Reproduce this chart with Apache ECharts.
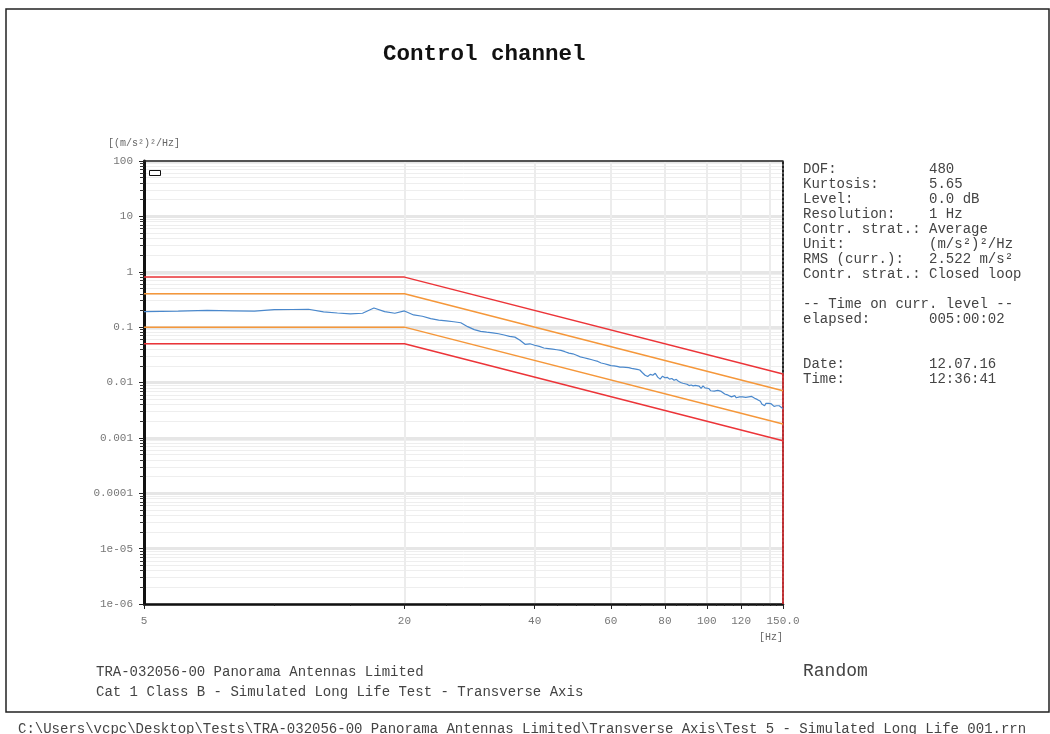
<!DOCTYPE html>
<html>
<head>
<meta charset="utf-8">
<title>Control channel</title>
<script src="https://cdn.jsdelivr.net/npm/echarts/dist/echarts.min.js"></script>
<style>
  html, body { margin: 0; padding: 0; background: #fff; }
  #chart { width: 1050px; height: 734px; }
</style>
</head>
<body>
<div id="chart"></div>
<script>
// reference profile + tolerance lines (breakpoints in Hz)
const profileFreq = [5, 20, 150];
const upperAbortFreq = [5, 20, 150, 150];
const upperAbort = [0.8, 0.8, 0.0142, 0.000001];
const upperAlarm = [0.4, 0.4, 0.0071];
const lowerAlarm = [0.1, 0.1, 0.00178];
const lowerAbort = [0.05, 0.05, 0.00089];

// measured control PSD, 1 Hz resolution from 5 Hz to 150 Hz
const controlStart = 5;
const controlPsd = [
  0.19, 0.195, 0.20, 0.197, 0.195, 0.207, 0.208, 0.21, 0.188, 0.18,
  0.173, 0.178, 0.222, 0.19, 0.178, 0.196,
  0.166, 0.157, 0.142, 0.134, 0.130, 0.125, 0.12, 0.102, 0.09, 0.084,
  0.081, 0.079, 0.076, 0.072, 0.068, 0.066, 0.058, 0.049, 0.050, 0.047,
  0.045, 0.042, 0.041, 0.040, 0.039, 0.038, 0.036, 0.034, 0.033, 0.031,
  0.029, 0.028, 0.027, 0.026, 0.025, 0.024, 0.0225, 0.0218, 0.021, 0.0202,
  0.0200, 0.0195, 0.019, 0.0189, 0.0187, 0.0185, 0.018, 0.0176, 0.0172, 0.0168,
  0.015, 0.0135, 0.0128, 0.014, 0.0135, 0.0147, 0.0125, 0.0115, 0.013, 0.0122,
  0.0124, 0.0115, 0.0118, 0.011, 0.0114, 0.0105, 0.0100, 0.0097, 0.0095, 0.0093,
  0.0088, 0.0090, 0.0087, 0.0089, 0.0082, 0.0086, 0.0078, 0.0087, 0.0080, 0.0075,
  0.0078, 0.0071, 0.0076, 0.0070, 0.0068, 0.0072, 0.0067, 0.0069, 0.0065, 0.0062,
  0.0064, 0.0059, 0.0063, 0.0055, 0.0054, 0.0058, 0.0053, 0.0057, 0.0055, 0.0056,
  0.0055, 0.0057, 0.0054, 0.0056, 0.0055, 0.0053, 0.0056, 0.0054, 0.0052, 0.0050,
  0.0049, 0.0048, 0.0046, 0.0041, 0.0043, 0.0038, 0.0042, 0.0040, 0.0042, 0.0039,
  0.0041, 0.0040, 0.0037, 0.0039, 0.0038, 0.0036, 0.0038, 0.0036, 0.0035, 0.0034
];

// axis ticks / labels
const xLabelFreq = [5, 20, 40, 60, 80, 100, 120, 150];
const xLabels = ["5", "20", "40", "60", "80", "100", "120", "150.0"];
const xMinorFreq = [5, 10, 15, 20, 25, 30, 35, 40, 45, 50, 55, 60, 65, 70, 75, 80, 85, 90, 95,
  100, 105, 110, 115, 120, 125, 130, 135, 140, 145, 150];
const xGridFreq = [20, 40, 60, 80, 100, 120, 140];
const yDecades = [-6, -5, -4, -3, -2, -1, 0, 1, 2];
const yLabels = ["1e-06", "1e-05", "0.0001", "0.001", "0.01", "0.1", "1", "10", "100"];
const yMinorFactors = [2, 3, 4, 5, 6, 7, 8, 9];

// info panel
const infoLabels = ["DOF:", "Kurtosis:", "Level:", "Resolution:", "Contr. strat.:", "Unit:",
  "RMS (curr.):", "Contr. strat.:", "", "-- Time on curr. level --", "elapsed:", "", "", "Date:", "Time:"];
const infoValues = ["480", "5.65", "0.0 dB", "1 Hz", "Average", "(m/s²)²/Hz",
  "2.522 m/s²", "Closed loop", "", "", "005:00:02", "", "", "12.07.16", "12:36:41"];

const MONO = "'Liberation Mono', 'DejaVu Sans Mono', monospace";
const lg = Math.log10;

const controlFreq = controlPsd.map((v, i) => controlStart + i);
const toXY = (fs, vs) => fs.map((f, i) => [lg(f), lg(vs[i])]);

const yMinorVals = [];
yDecades.slice(0, -1).forEach(d => yMinorFactors.forEach(k => yMinorVals.push(d + lg(k))));

const infoText = infoLabels.map((l, i) =>
  infoValues[i] ? l.padEnd(15, " ") + infoValues[i] : l).join("\n");

const xMin = lg(5), xMax = lg(150);
const xLabelFormatter = (val) => {
  const i = xLabelFreq.findIndex(f => Math.abs(lg(f) - val) < 1e-6);
  return i >= 0 ? xLabels[i] : "";
};
const yLabelFormatter = (val) => {
  const i = yDecades.findIndex(d => Math.abs(d - val) < 1e-6);
  return i >= 0 ? yLabels[i] : "";
};

const lineSeries = (name, data, color, width, z) => ({
  name: name,
  type: "line",
  data: data,
  xAxisIndex: 0,
  yAxisIndex: 0,
  showSymbol: false,
  symbol: "none",
  z: z,
  lineStyle: { color: color, width: width },
  emphasis: { disabled: true }
});

const option = {
  animation: false,
  backgroundColor: "#fff",
  title: {
    text: "Control channel",
    left: 378,
    top: 38,
    textStyle: { fontFamily: MONO, fontSize: 22.5, fontWeight: "bold", color: "#111" }
  },
  grid: { left: 144, right: 267, top: 161, bottom: 130, containLabel: false },
  xAxis: [
    {
      // bottom axis with every 5 Hz small tick
      type: "value", min: xMin, max: xMax, position: "bottom",
      axisLine: { show: true, onZero: false, lineStyle: { color: "#111", width: 2.5 } },
      axisTick: { show: true, customValues: xMinorFreq.map(lg), length: 2, lineStyle: { color: "#222" } },
      axisLabel: { show: false },
      splitLine: { show: false }
    },
    {
      // labelled ticks
      type: "value", min: xMin, max: xMax, position: "bottom",
      axisLine: { show: false, onZero: false },
      axisTick: { show: true, customValues: xLabelFreq.map(lg), length: 5, lineStyle: { color: "#222" } },
      axisLabel: {
        show: true, customValues: xLabelFreq.map(lg), formatter: xLabelFormatter,
        margin: 12, color: "#777", fontFamily: MONO, fontSize: 11
      },
      splitLine: { show: false }
    },
    {
      // vertical grid
      type: "value", min: xMin, max: xMax, position: "bottom",
      axisLine: { show: false, onZero: false },
      axisTick: { show: false, customValues: xGridFreq.map(lg) },
      axisLabel: { show: false },
      splitLine: { show: true, lineStyle: { color: "#ececec", width: 2 } }
    },
    {
      // top border
      type: "value", min: xMin, max: xMax, position: "top",
      axisLine: { show: true, onZero: false, lineStyle: { color: "#222", width: 1.5 } },
      axisTick: { show: false }, axisLabel: { show: false }, splitLine: { show: false }
    }
  ],
  yAxis: [
    {
      type: "value", min: -6, max: 2, interval: 1, position: "left",
      axisLine: { show: true, onZero: false, lineStyle: { color: "#111", width: 3 } },
      axisTick: { show: true, length: 5, lineStyle: { color: "#222" } },
      axisLabel: {
        show: true, formatter: yLabelFormatter, margin: 11,
        color: "#777", fontFamily: MONO, fontSize: 11
      },
      splitLine: { show: true, lineStyle: { color: "#e6e6e6", width: 3 } }
    },
    {
      type: "value", min: -6, max: 2, position: "left",
      axisLine: { show: false, onZero: false },
      axisTick: { show: true, customValues: yMinorVals, length: 4, lineStyle: { color: "#333" } },
      axisLabel: { show: false },
      splitLine: { show: true, lineStyle: { color: "#eeeeee", width: 1 } }
    },
    {
      // right border (dotted)
      type: "value", min: -6, max: 2, position: "right",
      axisLine: { show: true, onZero: false, lineStyle: { color: "#222", width: 2, type: "dotted" } },
      axisTick: { show: false }, axisLabel: { show: false }, splitLine: { show: false }
    }
  ],
  series: [
    lineSeries("upper abort", toXY(upperAbortFreq, upperAbort), "#ec3438", 1.5, 3),
    lineSeries("upper alarm", toXY(profileFreq, upperAlarm), "#f5973a", 1.5, 3),
    lineSeries("lower alarm", toXY(profileFreq, lowerAlarm), "#f5973a", 1.5, 3),
    lineSeries("lower abort", toXY(profileFreq, lowerAbort), "#ec3438", 1.5, 3),
    lineSeries("control", toXY(controlFreq, controlPsd), "#4a88cc", 1.2, 4)
  ],
  graphic: [
    {
      type: "rect", silent: true, z: 0,
      shape: { x: 6, y: 9, width: 1043, height: 703 },
      style: { fill: null, stroke: "#222", lineWidth: 1.5 }
    },
    {
      // empty legend box
      type: "rect", silent: true, z: 10,
      shape: { x: 149.5, y: 170.5, width: 11, height: 5 },
      style: { fill: "#fff", stroke: "#111", lineWidth: 1 }
    },
    {
      type: "text", silent: true, x: 108, y: 143,
      style: { text: "[(m/s²)²/Hz]", font: "10px " + MONO, fill: "#666", verticalAlign: "middle", textVerticalAlign: "middle" }
    },
    {
      type: "text", silent: true, x: 783, y: 637,
      style: { text: "[Hz]", font: "10px " + MONO, fill: "#666", align: "right", textAlign: "right", verticalAlign: "middle", textVerticalAlign: "middle" }
    },
    {
      type: "text", silent: true, x: 803, y: 162,
      style: { text: infoText, font: "14px " + MONO, lineHeight: 15, fill: "#444", verticalAlign: "top", textVerticalAlign: "top" }
    },
    {
      type: "text", silent: true, x: 96, y: 672,
      style: { text: "TRA-032056-00 Panorama Antennas Limited", font: "14px " + MONO, fill: "#444", verticalAlign: "middle", textVerticalAlign: "middle" }
    },
    {
      type: "text", silent: true, x: 96, y: 692,
      style: { text: "Cat 1 Class B - Simulated Long Life Test - Transverse Axis", font: "14px " + MONO, fill: "#444", verticalAlign: "middle", textVerticalAlign: "middle" }
    },
    {
      type: "text", silent: true, x: 803, y: 671,
      style: { text: "Random", font: "18px " + MONO, fill: "#444", verticalAlign: "middle", textVerticalAlign: "middle" }
    },
    {
      type: "text", silent: true, x: 18, y: 729,
      style: { text: "C:\\Users\\vcpc\\Desktop\\Tests\\TRA-032056-00 Panorama Antennas Limited\\Transverse Axis\\Test 5 - Simulated Long Life 001.rrn", font: "14px " + MONO, fill: "#444", verticalAlign: "middle", textVerticalAlign: "middle" }
    }
  ]
};

const chart = echarts.init(document.getElementById("chart"), null, { renderer: "canvas" });
chart.setOption(option);
window.addEventListener("resize", () => chart.resize());
</script>
</body>
</html>
